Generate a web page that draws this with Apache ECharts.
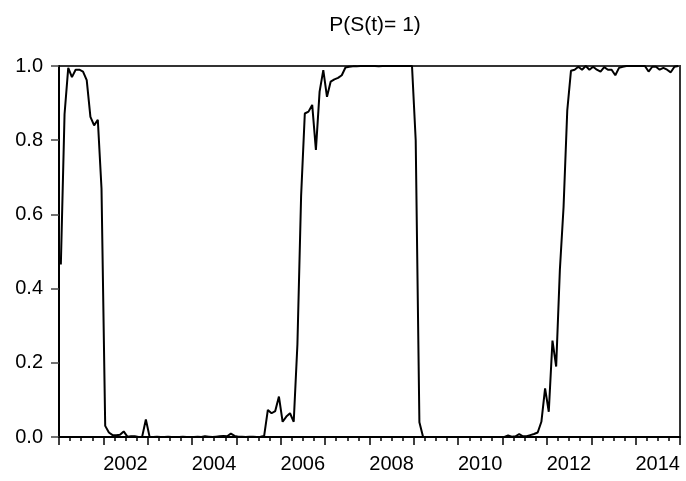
<!DOCTYPE html>
<html>
<head>
<meta charset="utf-8">
<script src="https://cdn.jsdelivr.net/npm/echarts@6/dist/echarts.min.js"></script>
<style>
  html, body { margin: 0; padding: 0; background: #fff; }
  #chart { width: 686px; height: 481px; }
</style>
</head>
<body>
<div id="chart"></div>
<script>
// P(S(t)=1), monthly, 2001-01 .. 2014-12
var firstYear = 2001;
var lastYear = 2014;

var p2001 = [0.465, 0.87, 0.995, 0.97, 0.99, 0.99, 0.985, 0.962, 0.863, 0.84, 0.855, 0.67];
var p2002 = [0.03, 0.012, 0.005, 0.005, 0.006, 0.015, 0.001, 0.002, 0.002, 0.0, 0.001, 0.047];
var p2003 = [0.001, 0.0, 0.001, 0.0, 0.0, 0.001, 0.0, 0.0, 0.0, 0.001, 0.0, 0.0];
var p2004 = [0.0, 0.001, 0.0, 0.002, 0.001, 0.0, 0.001, 0.002, 0.003, 0.002, 0.009, 0.003];
var p2005 = [0.001, 0.001, 0.0, 0.001, 0.001, 0.0, 0.001, 0.003, 0.073, 0.064, 0.07, 0.109];
var p2006 = [0.041, 0.055, 0.064, 0.041, 0.25, 0.65, 0.872, 0.877, 0.895, 0.774, 0.931, 0.989];
var p2007 = [0.917, 0.958, 0.964, 0.968, 0.975, 0.996, 0.998, 0.999, 0.999, 1.0, 1.0, 1.0];
var p2008 = [1.0, 1.0, 0.999, 1.0, 1.0, 1.0, 1.0, 1.0, 1.0, 1.0, 1.0, 1.0];
var p2009 = [0.80, 0.04, 0.0, 0.0, 0.0, 0.0, 0.0, 0.0, 0.0, 0.0, 0.0, 0.0];
var p2010 = [0.0, 0.0, 0.0, 0.0, 0.0, 0.0, 0.0, 0.0, 0.0, 0.0, 0.0, 0.0];
var p2011 = [0.0, 0.004, 0.001, 0.002, 0.008, 0.002, 0.002, 0.005, 0.008, 0.012, 0.041, 0.131];
var p2012 = [0.068, 0.26, 0.19, 0.45, 0.62, 0.88, 0.987, 0.99, 0.998, 0.99, 1.0, 0.99];
var p2013 = [0.998, 0.99, 0.985, 0.997, 0.99, 0.99, 0.975, 0.995, 0.998, 1.0, 1.0, 1.0];
var p2014 = [1.0, 1.0, 1.0, 0.985, 0.998, 0.998, 0.99, 0.995, 0.99, 0.983, 0.998, 1.0];

var yTicks = [0.0, 0.2, 0.4, 0.6, 0.8, 1.0];

var probs = [].concat(p2001, p2002, p2003, p2004, p2005, p2006, p2007,
                      p2008, p2009, p2010, p2011, p2012, p2013, p2014);

var months = [];
for (var y = firstYear; y <= lastYear; y++) {
  for (var m = 1; m <= 12; m++) {
    months.push(y + '-' + (m < 10 ? '0' + m : m));
  }
}

var FONT = "'Liberation Sans', Arial, sans-serif";

var chart = echarts.init(document.getElementById('chart'));
chart.setOption({
  animation: false,
  backgroundColor: '#fff',
  title: {
    text: 'P(S(t)= 1)',
    left: 370,
    textAlign: 'center',
    top: 10,
    textStyle: { fontFamily: FONT, fontSize: 21, fontWeight: 'normal', color: '#000' }
  },
  grid: {
    left: 59, right: 6, top: 66, bottom: 44,
    show: true,
    borderColor: '#333',
    borderWidth: 2
  },
  xAxis: [{
    // years: major ticks + labels (label sits in the middle of its year)
    type: 'category',
    data: months,
    boundaryGap: true,
    position: 'bottom',
    axisLine: { show: true, lineStyle: { color: '#000', width: 2 } },
    axisTick: {
      show: true, inside: false, length: 8,
      interval: function (i) { return i % 12 === 0; },
      lineStyle: { color: '#000', width: 1.5 }
    },
    axisLabel: {
      interval: function (i) { return i % 24 === 18; },
      formatter: function (v) { return v.slice(0, 4); },
      margin: 17,
      padding: [0, 4, 0, 0],
      fontFamily: FONT, fontSize: 20, color: '#000'
    },
    splitLine: { show: false }
  }, {
    // quarters: minor ticks
    type: 'category',
    data: months,
    boundaryGap: true,
    position: 'bottom',
    axisLine: { show: false },
    axisTick: {
      show: true, inside: false, length: 4,
      interval: function (i) { return i % 3 === 0; },
      lineStyle: { color: '#000', width: 1.5 }
    },
    axisLabel: { show: false },
    splitLine: { show: false }
  }],
  yAxis: {
    type: 'value',
    min: yTicks[0],
    max: yTicks[yTicks.length - 1],
    interval: 0.2,
    axisLine: { show: true, lineStyle: { color: '#000', width: 2 } },
    axisTick: { show: true, inside: false, length: 8, lineStyle: { color: '#444', width: 1.5 } },
    axisLabel: {
      formatter: function (v) { return v.toFixed(1); },
      margin: 16,
      fontFamily: FONT, fontSize: 20, color: '#000'
    },
    splitLine: { show: false }
  },
  series: [{
    name: 'P(S(t)= 1)',
    type: 'line',
    xAxisIndex: 0,
    data: probs,
    showSymbol: false,
    lineStyle: { color: '#000', width: 2 }
  }]
});
</script>
</body>
</html>
